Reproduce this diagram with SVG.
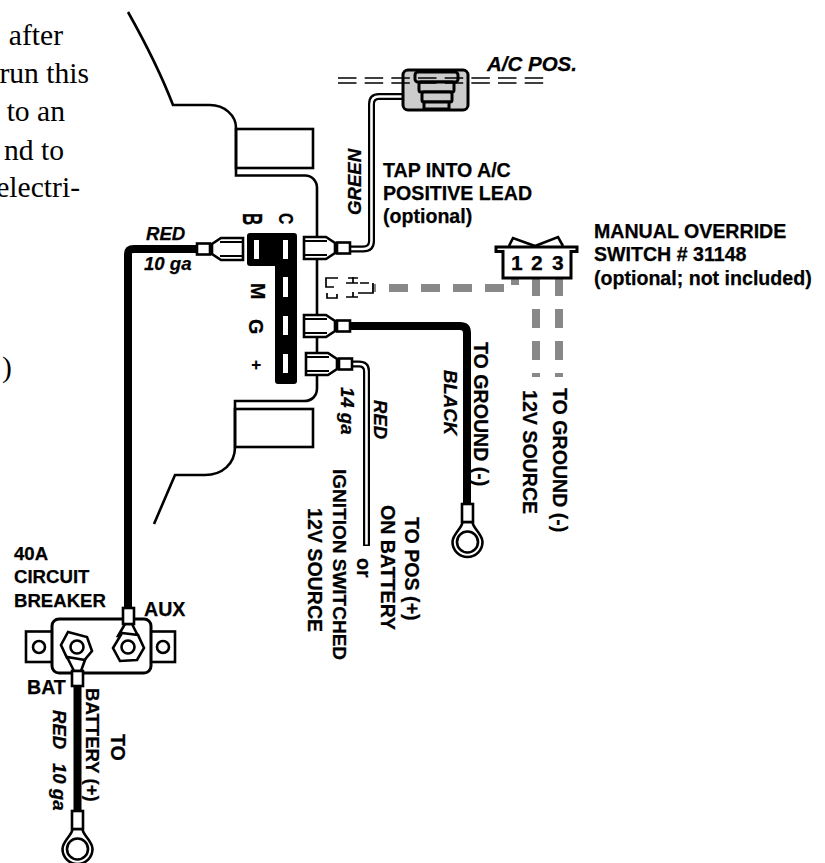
<svg xmlns="http://www.w3.org/2000/svg" width="825" height="863" viewBox="0 0 825 863">
<style>
text{font-family:"Liberation Sans",Arial,sans-serif;font-weight:bold;font-size:19.600px;fill:#000;stroke:#000;stroke-width:.25}
.i{font-style:italic;font-size:18.600px}
.s{font-family:"Liberation Serif","Times New Roman",serif;font-weight:normal;font-size:29.600px;stroke:none}
.o{fill:none;stroke:#000;stroke-width:2.600}
.t{fill:#fff;stroke:#000;stroke-width:2.600}
.g{fill:none;stroke:#888;stroke-width:8}
.c{fill:none;stroke:#000;stroke-width:1.700}
.k{fill:#ccc;stroke:#000;stroke-width:3}
.w{fill:none;stroke:#000;stroke-width:8}
.x{fill:none;stroke:#000;stroke-width:7}
.y{fill:none;stroke:#fff;stroke-width:2.600}
.h{fill:#fff}
</style>
<defs>
<g id="spade"><path class="t" d="M0-11H22L31-5V5L22 11H0Z"/><path class="c" d="M1-7H23M1 7H23" style="stroke-width:2.200"/><rect class="t" x="33" y="-5.500" width="13" height="11"/></g>
<g id="ring"><path class="t" d="M-5 6C-5 12-15 18-15 26A15 15 0 1 0 15 26C15 18 5 12 5 6Z"/><circle class="t" cx="0" cy="26" r="10.500"/><rect class="t" x="-5.500" y="-12" width="11" height="18"/></g>
</defs>
<g id="page-text">
<text class="s" x="63" y="45" text-anchor="end">after</text>
<text class="s" x="89" y="83" text-anchor="end">run this</text>
<text class="s" x="65" y="121" text-anchor="end">to an</text>
<text class="s" x="64" y="160" text-anchor="end">nd to</text>
<text class="s" x="80" y="197" text-anchor="end">electri-</text>
<text class="s" x="2" y="377">)</text>
</g>
<g id="body"><path class="o" d="M128 12C146 44 161 74 173 105H210C224 105 236 115 236 128V175.500H305C312 175.500 317 181 317 188V388C317 396 312 401 304 401H235V447C235 464 222 475 205 475H175L154 524"/>
<rect class="o" x="236" y="129" width="77" height="39"/><rect class="o" x="235" y="409" width="78" height="38"/></g>
<g id="connectors">
<path class="w" d="M128 612V254Q128 249 134 249H198"/>
<path class="w" d="M348 326H460Q467 326 467 333V506"/>
<path class="w" d="M77.500 684V813"/>
<path class="x" d="M346 249H363Q371.500 249 371.500 241V104Q371.500 96.500 379 96.500H405"/>
<path class="y" d="M346 249H363Q371.500 249 371.500 241V104Q371.500 96.500 379 96.500H405"/>
<path class="x" d="M348 364H359Q366.500 364 366.500 371V546"/>
<path class="y" d="M348 364H359Q366.500 364 366.500 371V544.500"/>
<path class="g" d="M372 288H376M389 288H408M421 288H440M453 288H472M485 288H504"/>
<path class="g" d="M515 279V285"/>
<path class="g" d="M536 279V296M536 309V328M536 341V360M536 373V377"/>
<path class="g" d="M559 279V296M559 309V328M559 341V360M559 373V377"/>
</g>
<g id="relay"><path d="M250 233H294Q297 233 297 236V381Q297 384 294 384H278Q275 384 275 381V266H250Q247 266 247 263V236Q247 233 250 233Z" fill="#000"/>
<rect class="h" x="254" y="240" width="5" height="19"/><rect class="h" x="283" y="240" width="5" height="19"/><rect class="h" x="283" y="277" width="5" height="20"/><rect class="h" x="283" y="316" width="5" height="19"/><rect class="h" x="283" y="354" width="5" height="19"/>
<text transform="translate(243 213) rotate(90) scale(.85 1.390)" style="font-size:20px">B</text>
<text transform="translate(279 213) rotate(90) scale(.8 1)">C</text>
<text transform="translate(251 283) rotate(90)">M</text>
<text transform="translate(249 319) rotate(90)">G</text>
<text transform="translate(251 360) rotate(90)" style="font-size:17px">+</text>
</g>
<g id="hidden-terminals"><path class="c" d="M338 278H326V287H334M327 293V298H337V294M348 278H358M353 277V283M346 283H358M346 297H358M353 292V297M360 283H369M373 283V293H358"/></g>
<use href="#spade" transform="translate(243 249) scale(-1 1)"/>
<use href="#spade" transform="translate(304 248)"/>
<use href="#spade" transform="translate(304 326)"/>
<use href="#spade" transform="translate(306 364)"/>
<g id="solenoid"><rect class="k" x="403" y="70" width="65" height="40" rx="5"/>
<rect class="k" x="415" y="72" width="43" height="10" rx="3"/><rect class="k" x="419" y="82" width="35" height="10" rx="2"/><rect class="k" x="422" y="92" width="30" height="10" rx="2"/><rect class="k" x="424" y="102" width="25" height="7"/></g>
<path id="ac-lead" class="c" stroke-dasharray="18.500 8.170" d="M338 78H544M338 83H544"/>
<g id="switch"><path class="o" d="M509 246L513 238L535 246L558 237L563 246"/><path d="M496 247H577V251.500H571V278H503V251.500H496Z" fill="#fff" stroke="#000" stroke-width="3"/>
<text x="511" y="270" style="font-size:21px">1</text><text x="531" y="270" style="font-size:21px">2</text><text x="552" y="270" style="font-size:21px">3</text></g>
<g id="breaker"><rect class="t" x="26" y="631.500" width="149" height="30.500"/><rect x="52" y="619" width="99" height="54" rx="7" fill="#fff" stroke="#000" stroke-width="3"/>
<circle class="t" cx="39" cy="647" r="6"/><circle class="t" cx="163" cy="647" r="6"/>
<path class="t" d="M68 632L87 637L92 651L82 663L67 658L61 645Z"/><circle class="t" cx="77" cy="647" r="6.500"/>
<path class="t" d="M125 624L118 636H138L132 624Z"/>
<path class="t" d="M122 633L138 635L144 648L137 660L120 661L113 648Z"/><circle class="t" cx="128" cy="647" r="6.500"/>
<path class="t" d="M67 657L74 671H81L85 660Z"/>
<rect class="t" x="123" y="608" width="11" height="16"/><rect class="t" x="72" y="671" width="11" height="15"/></g>
<use href="#ring" transform="translate(77.500 823)"/>
<use href="#ring" transform="translate(467.500 516)"/>
<g id="labels">
<text class="i" x="146" y="240">RED</text>
<text class="i" x="144" y="270">10 ga</text>
<text class="i" transform="translate(361 215) rotate(-90)">GREEN</text>
<text class="i" x="487" y="71" style="font-size:20.500px">A/C POS.</text>
<text x="383" y="177">TAP INTO A/C</text><text x="383" y="200">POSITIVE LEAD</text><text x="383" y="223">(optional)</text>
<text x="594" y="238">MANUAL OVERRIDE</text><text x="594" y="261">SWITCH # 31148</text><text x="594" y="285">(optional; not included)</text>
<text transform="translate(474 342) rotate(90)">TO GROUND (-)</text>
<text class="i" transform="translate(444 370) rotate(90)">BLACK</text>
<text class="i" transform="translate(374 400) rotate(90)">RED</text>
<text class="i" transform="translate(341 387) rotate(90)">14 ga</text>
<text transform="translate(523 390) rotate(90)">12V SOURCE</text>
<text transform="translate(553 388) rotate(90)">TO GROUND (-)</text>
<text transform="translate(405 517) rotate(90)">TO POS (+)</text>
<text transform="translate(381 505) rotate(90)">ON BATTERY</text>
<text transform="translate(357 558) rotate(90)">or</text>
<text transform="translate(333 469) rotate(90)" style="font-size:19px">IGNITION SWITCHED</text>
<text transform="translate(308 508) rotate(90)">12V SOURCE</text>
<text x="14" y="560" style="font-size:18.600px">40A</text><text x="14" y="583" style="font-size:18.600px">CIRCUIT</text><text x="14" y="607" style="font-size:18.600px">BREAKER</text>
<text x="144" y="616">AUX</text><text x="27" y="694">BAT</text>
<text transform="translate(86 688) rotate(90)" style="font-size:18.600px">BATTERY (+)</text>
<text transform="translate(111 734) rotate(90)">TO</text>
<text class="i" transform="translate(53 710) rotate(90)">RED</text>
<text class="i" transform="translate(53 763) rotate(90)">10 ga</text>
</g>
</svg>
